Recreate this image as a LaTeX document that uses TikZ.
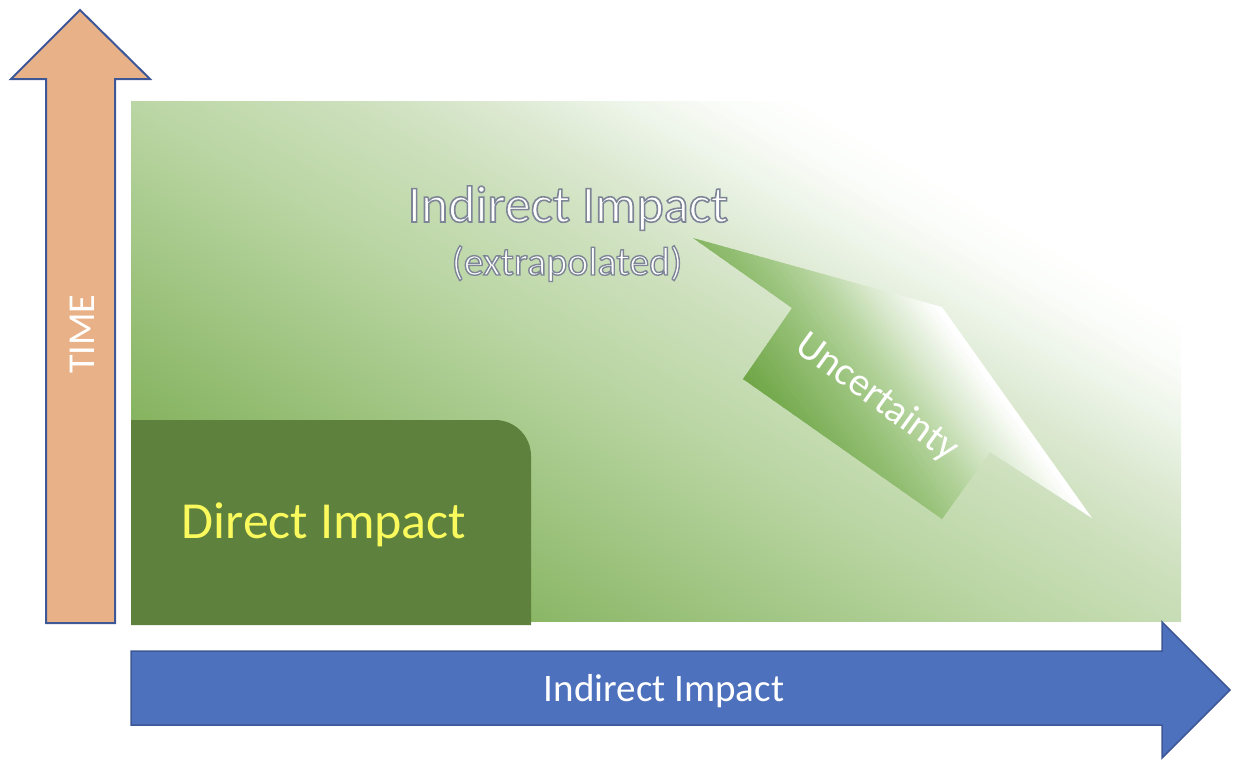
\documentclass[tikz,border=0pt]{standalone}
\usepackage{fontspec}
\setmainfont{Carlito}

\definecolor{timefill}{HTML}{E9B187}
\definecolor{arrowedge}{HTML}{3E5797}
\definecolor{axisfill}{HTML}{4E71BE}
\definecolor{directgreen}{HTML}{5E813D}
\definecolor{directtext}{HTML}{FAFA5C}
% stops of the large background gradient
\definecolor{bgA}{HTML}{6CA545}
\definecolor{bgB}{HTML}{88B563}
\definecolor{bgC}{HTML}{B9D5A2}
\definecolor{bgD}{HTML}{CDE0BD}
\definecolor{bgE}{HTML}{DCE9D1}
\definecolor{bgF}{HTML}{EDF4E8}
\definecolor{bgG}{HTML}{FBFDFA}
% stops of the uncertainty arrow gradient
\definecolor{unA}{HTML}{6EA545}
\definecolor{unB}{HTML}{9AC37C}
\definecolor{unC}{HTML}{B7D5A0}
\definecolor{unD}{HTML}{DDEBD2}

% one linear gradient segment drawn as thin bands, from s0 to s1
\newcommand\gradseg[5]{%
  \foreach \k in {1,...,#5}{%
    \pgfmathsetmacro\gsA{#1+(#2-#1)*(\k-1)/#5}%
    \pgfmathsetmacro\gsB{#1+(#2-#1)*\k/#5+0.7}%
    \pgfmathsetmacro\gsP{100-100*(\k-0.5)/#5}%
    \fill[#3!\gsP!#4] (-1700,\gsA) rectangle (1700,\gsB);
  }}

% white letters with a thin grey-blue outline (fill, then stroke)
\newcommand\outlinedtext[2]{%
  \special{pdf:literal direct 2 Tr #1 w 0.49 0.52 0.59 RG}#2%
  \special{pdf:literal direct 0 Tr}}

\tikzset{
  blockarrow/.style={draw=arrowedge, line width=2pt, line join=miter},
}

\begin{document}
\begin{tikzpicture}[x=1pt,y=-1pt]
\useasboundingbox (0,0) rectangle (1233,761);

% background field, fading toward the upper right
\begin{scope}
  \clip (131,101) rectangle (1181,621);
  \begin{scope}[shift={(131,621)}, rotate=150]
    \gradseg{-200}{0}{bgA}{bgA}{1}
    \gradseg{0}{190}{bgA}{bgB}{30}
    \gradseg{190}{440}{bgB}{bgC}{40}
    \gradseg{440}{560}{bgC}{bgD}{25}
    \gradseg{560}{630}{bgD}{bgE}{16}
    \gradseg{630}{690}{bgE}{bgF}{14}
    \gradseg{690}{750}{bgF}{bgG}{14}
    \gradseg{750}{790}{bgG}{white}{8}
    \gradseg{790}{1300}{white}{white}{1}
  \end{scope}
\end{scope}

% uncertainty arrow
\begin{scope}
  \clip (693,238) -- (942,307) -- (1092,518) -- (990,452) -- (942,519)
        -- (743,379) -- (792,308) -- cycle;
  \begin{scope}[shift={(743,379)}, rotate=125.6]
    \gradseg{-80}{0}{unA}{unA}{1}
    \gradseg{0}{80}{unA}{unB}{20}
    \gradseg{80}{120}{unB}{unC}{12}
    \gradseg{120}{160}{unC}{unD}{12}
    \gradseg{160}{200}{unD}{white}{12}
    \gradseg{200}{300}{white}{white}{1}
  \end{scope}
\end{scope}

% direct impact block
\fill[directgreen] (131,625) -- (131,420) -- (495,420)
  arc[start angle=-90, end angle=0, radius=36] -- (531,625) -- cycle;

% time axis
\draw[blockarrow, fill=timefill] (46,623) -- (46,79) -- (11,79) -- (80,10)
  -- (150,79) -- (115,79) -- (115,623) -- cycle;

% impact axis
\draw[blockarrow, line width=1.5pt, fill=axisfill] (131,651) -- (1162,651) -- (1162,622)
  -- (1230,690) -- (1162,758) -- (1162,725) -- (131,725) -- cycle;

% labels
\node[rotate=90, anchor=base, text=white, font=\fontsize{38}{46}\selectfont]
  (time) at (94,334) {TIME};
\node[anchor=base, text=white, font=\fontsize{39}{46}\selectfont]
  (axislabel) at (664,701) {Indirect Impact};
\node[anchor=base, text=directtext, font=\fontsize{52}{60}\selectfont]
  (direct) at (324,538) {Direct Impact};
\node[anchor=base, text=white, font=\fontsize{52}{60}\selectfont]
  (indirect) at (568,222) {\outlinedtext{1.6}{Indirect Impact}};
\node[anchor=base, text=white, font=\fontsize{40}{46}\selectfont]
  (extrap) at (567,275) {\outlinedtext{1.4}{(extrapolated)}};
\node[rotate=-36, text=white, font=\fontsize{40}{48}\selectfont]
  (uncert) at (877,398) {Uncertainty};
\end{tikzpicture}
\end{document}
